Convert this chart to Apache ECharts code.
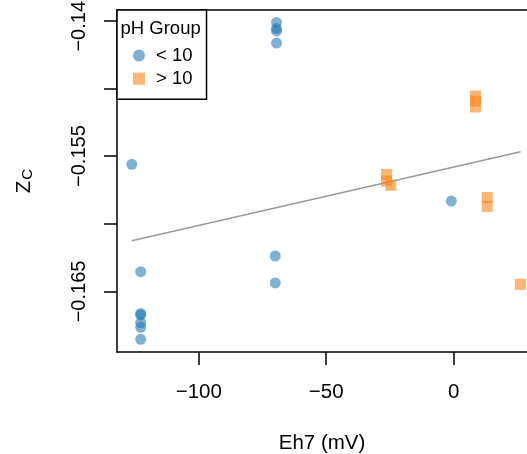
<!DOCTYPE html>
<html>
<head>
<meta charset="utf-8">
<script src="https://cdn.jsdelivr.net/npm/echarts@6/dist/echarts.min.js"></script>
<style>
  html, body { margin: 0; padding: 0; background: #fff; }
  #chart { width: 527px; height: 454px; }
</style>
</head>
<body>
<div id="chart"></div>
<script>
// pH < 10 group
const lowEh = [-69.5, -69.5, -69.5, -69.5, -126.3, -122.8, -122.8, -122.8, -122.8, -122.8, -122.8, -70.0, -70.0, -0.9];
const lowZc = [-0.14513, -0.14558, -0.14576, -0.14665, -0.15561, -0.16354, -0.16662, -0.16673, -0.16731, -0.16765, -0.16853, -0.16238, -0.16437, -0.15832];
// pH > 10 group
const highEh = [-26.3, -26.3, -24.6, 8.6, 8.6, 8.6, 13.2, 13.2, 26.2];
const highZc = [-0.15635, -0.15684, -0.15716, -0.15056, -0.15093, -0.15137, -0.15806, -0.15872, -0.16447];
// fitted line ends
const fitEh = [-126.3, 26.3];
const fitZc = [-0.16125, -0.15468];
// ticks
const xTicks = [-100, -50, 0];
const yTicks = [-0.145, -0.15, -0.155, -0.16, -0.165];
const yLabels = [-0.145, -0.155, -0.165];

const font = "Liberation Sans";
const minus = (s) => s.replace("-", "\u2212");
const pairs = (xs, ys) => xs.map((x, i) => [x, ys[i]]);
const black = { color: "#000", width: 1.5 };

const chart = echarts.init(document.getElementById("chart"));
const option = {
  animation: false,
  grid: { left: 117, top: 10, right: 0, bottom: 102, outerBoundsMode: "none", containLabel: false },
  xAxis: [
    {
      type: "value",
      min: -132.1,
      max: 28.8,
      name: "Eh7 (mV)",
      nameLocation: "middle",
      nameGap: 81,
      nameTextStyle: { fontFamily: font, fontSize: 20.5, color: "#000" },
      axisLine: { show: true, onZero: false, lineStyle: black },
      axisTick: { show: true, length: 13, lineStyle: black, customValues: xTicks },
      axisLabel: {
        margin: 30,
        fontFamily: font,
        fontSize: 20.5,
        color: "#000",
        customValues: xTicks,
        formatter: (v) => minus(String(v)),
      },
      splitLine: { show: false },
    },
    {
      // top edge of the box
      type: "value",
      position: "top",
      min: -132.1,
      max: 28.8,
      axisLine: { show: true, onZero: false, lineStyle: black },
      axisTick: { show: false },
      axisLabel: { show: false },
      splitLine: { show: false },
    },
  ],
  yAxis: {
    type: "value",
    min: -0.16947,
    max: -0.14421,
    name: "{z|Z}{c|C}",
    nameLocation: "middle",
    nameRotate: 90,
    nameGap: 82,
    nameTextStyle: {
      color: "#000",
      rich: {
        z: { fontFamily: font, fontSize: 20.5, color: "#000" },
        c: { fontFamily: font, fontSize: 15, color: "#000", padding: [6, 0, 0, 1] },
      },
    },
    axisLine: { show: true, onZero: false, lineStyle: black },
    axisTick: { show: true, length: 13, lineStyle: black, customValues: yTicks },
    axisLabel: {
      rotate: 90,
      margin: 28,
      fontFamily: font,
      fontSize: 20,
      color: "#000",
      customValues: yLabels,
      formatter: (v) => minus(v.toFixed(3)),
    },
    splitLine: { show: false },
  },
  legend: {
    data: ["< 10", "> 10"],
    orient: "vertical",
    left: 117,
    top: 10,
    padding: [36, 14, 11, 16],
    itemWidth: 12,
    itemHeight: 12,
    itemGap: 4.2,
    borderColor: "#000",
    borderWidth: 1.5,
    backgroundColor: "#fff",
    textStyle: { fontFamily: font, fontSize: 18.5, color: "#000", padding: [0, 0, 0, 6] },
  },
  graphic: [
    {
      type: "text",
      z: 100,
      left: 120.5,
      top: 19,
      style: { text: "pH Group", font: "18.5px Liberation Sans", fill: "#000" },
    },
  ],
  series: [
    {
      type: "line",
      data: pairs(fitEh, fitZc),
      symbol: "none",
      lineStyle: { color: "#999", width: 1.5 },
      z: 1,
      silent: true,
    },
    {
      name: "< 10",
      type: "scatter",
      symbol: "circle",
      symbolSize: 11,
      data: pairs(lowEh, lowZc),
      itemStyle: { color: "rgba(31,119,180,0.72)" },
      z: 2,
    },
    {
      name: "> 10",
      type: "scatter",
      symbol: "rect",
      symbolSize: 11,
      data: pairs(highEh, highZc),
      itemStyle: { color: "rgba(255,127,14,0.72)" },
      z: 2,
    },
  ],
};
chart.setOption(option);
</script>
</body>
</html>
